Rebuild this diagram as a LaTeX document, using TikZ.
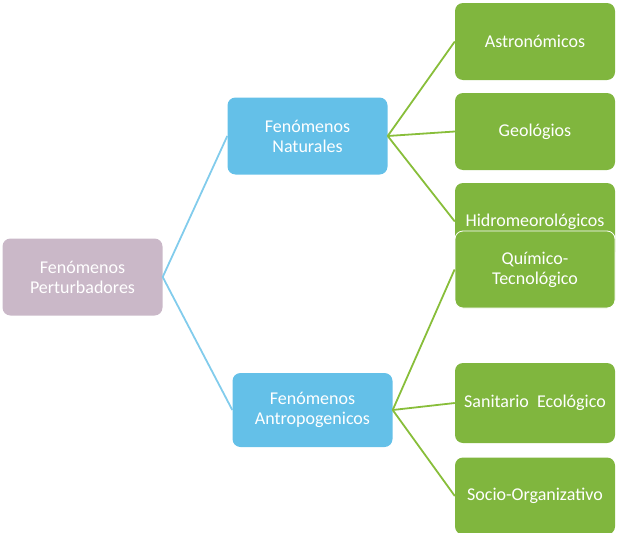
\documentclass[tikz,border=0pt]{standalone}
\usepackage{fontspec}
\setmainfont{Carlito}
\usetikzlibrary{calc}
\usetikzlibrary{positioning}
\definecolor{rootfill}{RGB}{202,184,200}
\definecolor{bluefill}{RGB}{100,192,232}
\definecolor{greenfill}{RGB}{128,182,62}
\definecolor{blueline}{RGB}{130,204,236}
\definecolor{greenline}{RGB}{136,190,58}
\tikzstyle{boxnode} = [rectangle, rounded corners=8pt, text=white, align=center, font=\fontsize{18}{20}\selectfont, minimum width=160pt, minimum height=77pt, inner sep=1pt]
\tikzstyle{colorRoot} = [fill=rootfill]
\tikzstyle{colorNat} = [fill=bluefill]
\tikzstyle{colorLeaf} = [fill=greenfill]
\tikzstyle{blueconn} = [draw=blueline, line width=1.8pt]
\tikzstyle{greenconn} = [draw=greenline, line width=1.8pt]

\begin{document}
\begin{tikzpicture}[x=1pt,y=-1pt]
\useasboundingbox (0,0) rectangle (619,533);
\node[boxnode, colorRoot] (root_block) at (82.5,277) {Fenómenos\\Perturbadores};
\node[boxnode, colorNat] (nat_block) at ($(root_block)+(225,-141)$) {Fenómenos\\Naturales};
\node[boxnode, colorNat, minimum height=74pt] (ant_block) at ($(root_block)+(230,133)$) {Fenómenos\\Antropogenicos};

\node[boxnode, colorLeaf] (ast_leaf) at (535,41.5) {Astronómicos};
\node[boxnode, colorLeaf] (geo_leaf) at ($(ast_leaf)+(0,90)$) {Geológios};
\node[boxnode, colorLeaf] (hid_leaf) at ($(geo_leaf)+(0,90)$) {Hidromeorológicos};
\node[boxnode, colorLeaf, draw=white, line width=0.8pt] (qui_leaf) at ($(hid_leaf)+(0,48)$) {Químico-\\Tecnológico};
\node[boxnode, colorLeaf, minimum height=80pt] (san_leaf) at (535,403) {Sanitario\ \ Ecológico};
\node[boxnode, colorLeaf] (soc_leaf) at ($(san_leaf)+(0,93)$) {Socio-Organizativo};

\draw[blueconn] (root_block.east) -- (nat_block.west);
\draw[blueconn] (root_block.east) -- (ant_block.west);
\draw[greenconn] (nat_block.east) -- (ast_leaf.west);
\draw[greenconn] (nat_block.east) -- (geo_leaf.west);
\draw[greenconn] (nat_block.east) -- (hid_leaf.west);
\draw[greenconn] (ant_block.east) -- (qui_leaf.west);
\draw[greenconn] (ant_block.east) -- (san_leaf.west);
\draw[greenconn] (ant_block.east) -- (soc_leaf.west);
\end{tikzpicture}
\end{document}
